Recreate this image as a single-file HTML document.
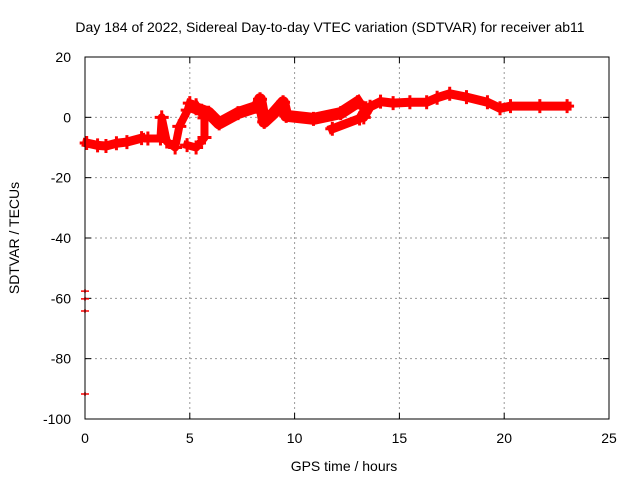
<!DOCTYPE html>
<html><head><meta charset="utf-8"><style>
body{margin:0;background:#fff;font-family:"Liberation Sans",sans-serif;}
svg text{font-family:"Liberation Sans",sans-serif;font-size:14px;fill:#000;}
</style></head><body>
<svg width="640" height="480" id="c">
<text x="330" y="32" text-anchor="middle">Day 184 of 2022, Sidereal Day-to-day VTEC variation (SDTVAR) for receiver ab11</text>
<text x="344" y="471" text-anchor="middle">GPS time / hours</text>
<text transform="translate(19,238) rotate(-90)" text-anchor="middle">SDTVAR / TECUs</text>
<g id="grid"></g><g id="marks"></g>
<rect x="85" y="57" width="524" height="362" fill="none" stroke="#000" stroke-width="1"/>
</svg>
<script>
const xTicks=[0,5,10,15,20,25];
const yTicks=[-100,-80,-60,-40,-20,0,20];
const segMain=[[0.08,-8.5],[0.6,-9.3],[1,-9.5],[1.5,-8.6],[2,-8.2],[2.7,-6.9]];
const segB=[[3.0,-7],[3.6,-7],[3.66,0],[3.9,-8],[4.3,-10],[4.5,-3],[4.9,2.4],[5.0,4.7]];
const segC=[[4.87,-9.2],[5.3,-10],[5.7,-6.7],[5.7,-0.2],[5.3,4]];
const segD=[[5.3,3],[5.9,1.5],[6.4,-2],[7.3,1.4],[8.2,3.5],[8.35,6],[8.55,-1.5],[9.0,1.4],[9.45,5],[9.6,0.5],[10.9,-0.5],[12.2,1.4],[13.0,5]];
const segE=[[11.8,-3.8],[13.1,-0.4],[13.4,3],[13.3,0],[13.6,3.5],[14.1,5.2],[14.7,4.7],[15.5,5],[16.3,5],[16.8,6.5],[17.4,7.8],[18.2,6.7],[19.2,5],[19.8,3],[20.3,3.7],[21.7,3.7],[23,3.7]];
const outliers=[[0,-57.6],[0,-60.2],[0,-64.2],[0,-91.7]];
const X=h=>85+h*524/25, Y=v=>57+(20-v)*362/120;
const ns="http://www.w3.org/2000/svg";
const g=document.getElementById('grid'), m=document.getElementById('marks');
function el(t,a,p){const e=document.createElementNS(ns,t);for(const k in a)e.setAttribute(k,a[k]);p.appendChild(e);return e;}
xTicks.forEach(t=>{
 if(t>0&&t<25){const l=el('line',{x1:X(t),x2:X(t),y1:57,y2:419,stroke:'#999','stroke-dasharray':'2,3'},g);
 
 }
 el('line',{x1:X(t),x2:X(t),y1:419,y2:413,stroke:'#000'},g);
 el('line',{x1:X(t),x2:X(t),y1:57,y2:63,stroke:'#000'},g);
 const tx=el('text',{x:X(t),y:443,'text-anchor':'middle'},g);tx.textContent=t;
 
 
});
yTicks.forEach(t=>{
 if(t>-100&&t<20){const l=el('line',{x1:85,x2:609,y1:Y(t),y2:Y(t),stroke:'#999','stroke-dasharray':'2,3'},g);
 
 }
 el('line',{x1:85,x2:91,y1:Y(t),y2:Y(t),stroke:'#000'},g);
 el('line',{x1:609,x2:603,y1:Y(t),y2:Y(t),stroke:'#000'},g);
 const tx=el('text',{x:71,y:Y(t)+5,'text-anchor':'end'},g);tx.textContent=t;
 
 
});
const widths=[9,8,8,12,9];
[segMain,segB,segC,segD,segE].forEach((s,i)=>{
 const p=el('polyline',{points:s.map(d=>X(d[0])+','+Y(d[1])).join(' '),fill:'none',stroke:'#f00','stroke-width':widths[i],'stroke-linejoin':'round','stroke-linecap':'square'},m);
 
 
 s.forEach(d=>{
  const c=el('path',{d:`M${X(d[0])-7},${Y(d[1])}h14M${X(d[0])},${Y(d[1])-7}v14`,stroke:'#f00','stroke-width':3},m);
  
  
 });
});
outliers.forEach(d=>{
 const o=el('path',{d:`M${X(d[0])-4},${Y(d[1])}h8M${X(d[0])},${Y(d[1])-2}v4`,stroke:'#f00','stroke-width':1.5},m);
 
 
});
</script>
</body></html>
